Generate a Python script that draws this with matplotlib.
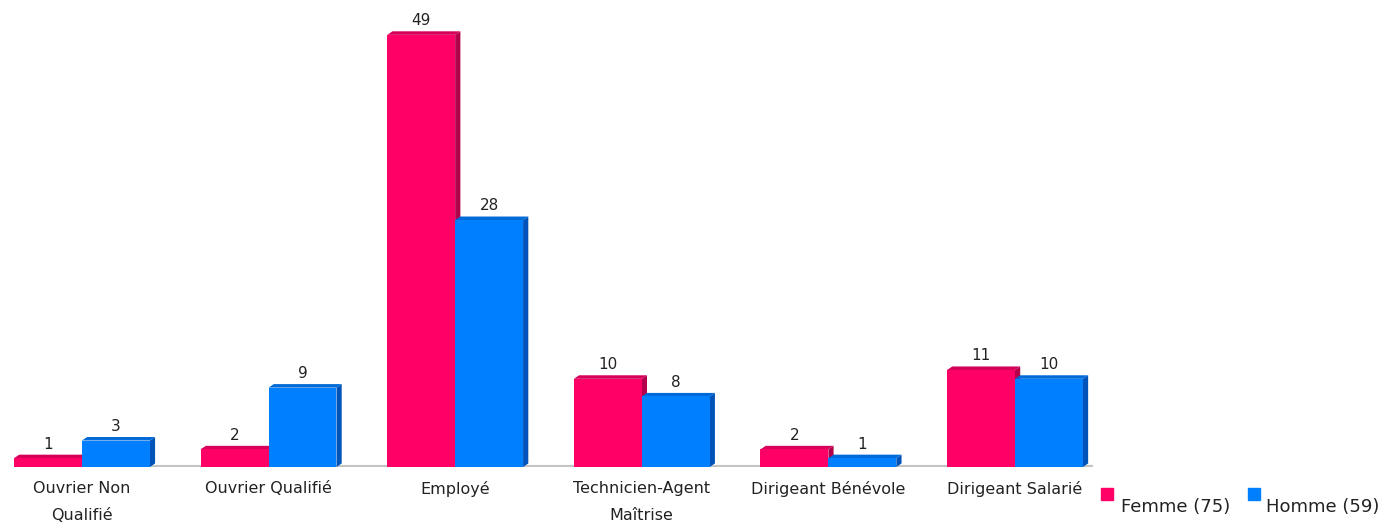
import numpy as np
import matplotlib.pyplot as plt
from matplotlib.patches import Polygon

categories = ["Ouvrier Non\nQualifié", "Ouvrier Qualifié", "Employé",
              "Technicien-Agent\nMaîtrise", "Dirigeant Bénévole", "Dirigeant Salarié"]
femme = [1, 2, 49, 10, 2, 11]
homme = [3, 9, 28, 8, 1, 10]
series_names = ["Femme (75)", "Homme (59)"]

colors = ["#FF0066", "#0080FF"]
side_colors = ["#B3004A", "#0053B8"]
top_colors = ["#D6005A", "#006AD8"]

fig = plt.figure(figsize=(13.86, 5.24), dpi=100)
ax = fig.add_axes([14 / 1386, 57 / 524, (1093 - 14) / 1386, 467 / 524])

x = np.arange(len(categories))
w = 0.364
dx, dy = 0.028, 0.4

for vals, off, c, sc, tc in [(femme, -w / 2, colors[0], side_colors[0], top_colors[0]),
                             (homme, w / 2, colors[1], side_colors[1], top_colors[1])]:
    bars = ax.bar(x + off, vals, width=w, color=c, zorder=3, linewidth=0)
    for b, v in zip(bars, vals):
        x0, x1 = b.get_x(), b.get_x() + b.get_width()
        ax.add_patch(Polygon([(x1, 0), (x1 + dx, dy), (x1 + dx, v + dy), (x1, v)],
                             closed=True, color=sc, zorder=2, linewidth=0))
        ax.add_patch(Polygon([(x0, v), (x0 + dx, v + dy), (x1 + dx, v + dy), (x1, v)],
                             closed=True, color=tc, zorder=2, linewidth=0))
        ax.text((x0 + x1) / 2, v + 0.75, str(v), ha="center", va="bottom",
                fontsize=11, color="#222222")

ax.set_xlim(-w, 5.418)
ax.set_ylim(0, 52.95)
ax.axhline(0, color="#C4C4C4", linewidth=3, zorder=1)
for s in ax.spines.values():
    s.set_visible(False)
ax.set_yticks([])
ax.set_xticks(x)
ax.set_xticklabels(categories, fontsize=11.5, linespacing=2.0, color="#222222", va="top")
ax.tick_params(axis="x", length=0, pad=10)

# legend
fig.patches.append(plt.Rectangle((1101 / 1386, (524 - 500) / 524), 12 / 1386, 12 / 524,
                                 transform=fig.transFigure, color=colors[0]))
fig.text(1121 / 1386, (524 - 512) / 524, series_names[0], fontsize=13, color="#222222")
fig.patches.append(plt.Rectangle((1248 / 1386, (524 - 500) / 524), 12 / 1386, 12 / 524,
                                 transform=fig.transFigure, color=colors[1]))
fig.text(1266 / 1386, (524 - 512) / 524, series_names[1], fontsize=13, color="#222222")

fig.savefig("out.png", dpi=100)
